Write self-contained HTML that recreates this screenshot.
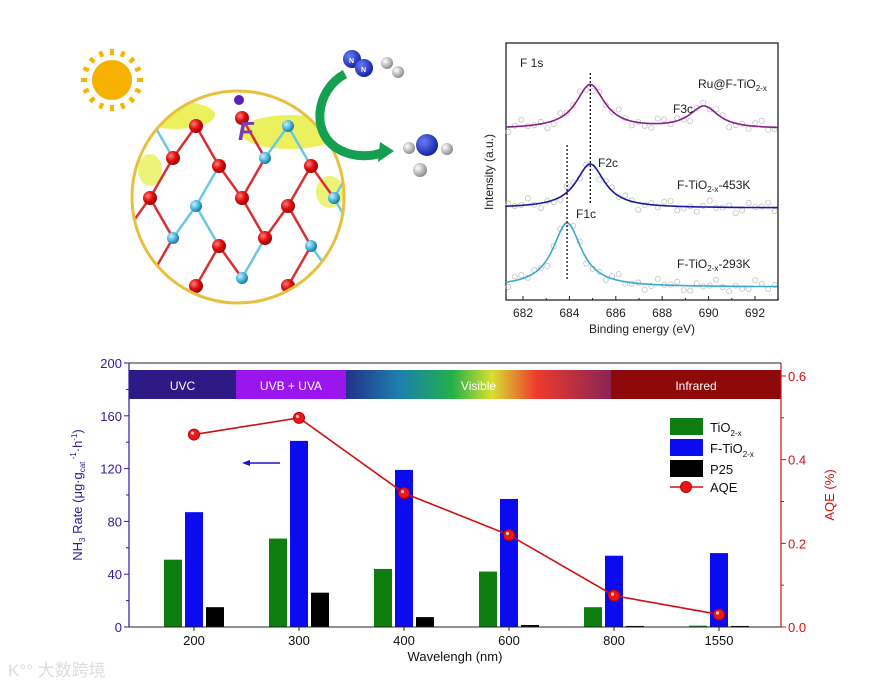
<!DOCTYPE html>
<html><head><meta charset="utf-8"><style>
html,body{margin:0;padding:0;background:#fff;}
body{width:880px;height:687px;position:relative;overflow:hidden;font-family:"Liberation Sans",sans-serif;}
svg{position:absolute;left:0;top:0;}
</style></head><body>
<svg id="s" width="880" height="687" viewBox="0 0 880 687" xmlns="http://www.w3.org/2000/svg">
<defs>
<linearGradient id="vis" x1="0" x2="1" y1="0" y2="0">
<stop offset="0" stop-color="#22318a"/><stop offset="0.2" stop-color="#1d7fae"/><stop offset="0.4" stop-color="#22b04a"/>
<stop offset="0.55" stop-color="#d8e030"/><stop offset="0.72" stop-color="#ee3a2c"/><stop offset="1" stop-color="#8b2454"/>
</linearGradient>
<radialGradient id="rb" cx="0.35" cy="0.35" r="0.7"><stop offset="0" stop-color="#ff8080"/><stop offset="0.5" stop-color="#e01010"/><stop offset="1" stop-color="#900"/></radialGradient>
<radialGradient id="cb" cx="0.35" cy="0.35" r="0.7"><stop offset="0" stop-color="#c8f0ff"/><stop offset="0.6" stop-color="#40b0d8"/><stop offset="1" stop-color="#1a6f90"/></radialGradient>
<radialGradient id="nb" cx="0.35" cy="0.35" r="0.7"><stop offset="0" stop-color="#6a7cff"/><stop offset="1" stop-color="#10209a"/></radialGradient>
<radialGradient id="hb" cx="0.35" cy="0.35" r="0.7"><stop offset="0" stop-color="#fff"/><stop offset="1" stop-color="#888"/></radialGradient>
<clipPath id="cc"><circle cx="238" cy="197" r="106"/></clipPath>
</defs>
<g id="illus"></g>
<g id="xps"></g>
<g id="bar"></g>
<text x="8" y="676" font-family="Liberation Sans, Noto Sans CJK SC, sans-serif" font-size="17" fill="#ddd">K°° 大数跨境</text>
</svg>
<script>
// ===== Bar chart data =====
const categories = ["200","300","400","600","800","1550"];
const tio2 = [51, 67, 44, 42, 15, 1];
const ftio2 = [87, 141, 119, 97, 54, 56];
const p25 = [15, 26, 7.5, 1.5, 0.8, 0.8];
const aqe = [0.46, 0.50, 0.32, 0.22, 0.075, 0.03];
const leftTicks = [0, 40, 80, 120, 160, 200];
const rightTicks = [0.0, 0.2, 0.4, 0.6];
// ===== XPS data =====
const xpsTicks = [682, 684, 686, 688, 690, 692];
const xpsRu = [[684.9, 44], [689.8, 22]];
const xps453 = [[684.9, 44]];
const xps293 = [[683.9, 64]];

const NS = "http://www.w3.org/2000/svg";
function mk(parent, tag, attrs, text){
  const e = document.createElementNS(NS, tag);
  for (const k in attrs) e.setAttribute(k, attrs[k]);
  if (text !== undefined) e.textContent = text;
  parent.appendChild(e); return e;
}
// ---------- bar chart ----------
const B = document.getElementById('bar');
const L = 129, R = 781, Y0 = 627, Ytop = 363;
const yL = v => Y0 - (v / 200) * (Y0 - Ytop);
const yR = v => Y0 - (v / 0.6) * (Y0 - 376);
const xC = i => 194 + i * 105;
const AX = "#2a1f9a", RD = "#d01010";
const bands = [[129,236,"#2e1a86","UVC"],[236,346,"#9b16ee","UVB + UVA"],[346,611,"url(#vis)","Visible"],[611,781,"#8e0a0a","Infrared"]];
bands.forEach(b=>{
  const r = mk(B,'rect',{x:b[0],y:370,width:b[1]-b[0],height:29,fill:b[2]});
  
  
  const t = mk(B,'text',{x:(b[0]+b[1])/2,y:390,'text-anchor':'middle','font-size':12,fill:'#fff'},b[3]);
  
  
});
const bw = 18;
categories.forEach((c,i)=>{
  [[tio2,'#0f7e10',-21,'tio2'],[ftio2,'#0b0bef',0,'f-tio2'],[p25,'#000',21,'p25']].forEach(s=>{
    const v = s[0][i], x = xC(i)+s[2]-bw/2;
    const r = mk(B,'rect',{x:x,y:yL(v),width:bw,height:Y0-yL(v),fill:s[1]});
    
    
  });
  const t = mk(B,'text',{x:xC(i),y:645,'text-anchor':'middle','font-size':13,fill:'#111'},c);
  
  
});
mk(B,'line',{x1:L,y1:Y0,x2:R,y2:Y0,stroke:'#222','stroke-width':1});
mk(B,'line',{x1:L,y1:Ytop,x2:L,y2:Y0,stroke:AX,'stroke-width':1.2});
mk(B,'line',{x1:R,y1:Ytop,x2:R,y2:Y0,stroke:RD,'stroke-width':1.2});
mk(B,'line',{x1:L,y1:Ytop,x2:R,y2:Ytop,stroke:'#222','stroke-width':1});
leftTicks.forEach((v,k)=>{
  mk(B,'line',{x1:L-5,y1:yL(v),x2:L,y2:yL(v),stroke:AX});
  if(k<leftTicks.length-1) mk(B,'line',{x1:L-3,y1:yL(v+20),x2:L,y2:yL(v+20),stroke:AX});
  const t = mk(B,'text',{x:L-7,y:yL(v)+5,'text-anchor':'end','font-size':13,fill:AX},String(v));
  
  
});
rightTicks.forEach((v,k)=>{
  mk(B,'line',{x1:R,y1:yR(v),x2:R+5,y2:yR(v),stroke:RD});
  if(k<rightTicks.length-1) mk(B,'line',{x1:R,y1:yR(v+0.1),x2:R+3,y2:yR(v+0.1),stroke:RD});
  const t = mk(B,'text',{x:R+7,y:yR(v)+5,'font-size':13,fill:RD},v.toFixed(1));
  
  
});
categories.forEach((c,i)=>{ mk(B,'line',{x1:xC(i),y1:Y0,x2:xC(i),y2:Y0+4,stroke:'#222'}); });
const pts = aqe.map((v,i)=>xC(i)+','+yR(v)).join(' ');
const pl = mk(B,'polyline',{points:pts,fill:'none',stroke:RD,'stroke-width':1.6});


aqe.forEach((v,i)=>{
  const p = mk(B,'circle',{cx:xC(i),cy:yR(v),r:5.5,fill:'#e81818',stroke:'#b00','stroke-width':1});
  
  
  mk(B,'circle',{cx:xC(i)-1.5,cy:yR(v)-1.5,r:1.6,fill:'#fbb'});
});
mk(B,'line',{x1:280,y1:463,x2:248,y2:463,stroke:'#1515d0','stroke-width':1.5});
mk(B,'polygon',{points:'242,463 250,460 250,466',fill:'#1515d0'});
const lg = mk(B,'g',{});


[['#0f7e10','TiO','2-x',427],['#0b0bef','F-TiO','2-x',448],['#000','P25','',469]].forEach(l=>{
  mk(lg,'rect',{x:670,y:l[3]-9,width:33,height:17,fill:l[0]});
  const t = mk(lg,'text',{x:710,y:l[3]+5,'font-size':13,fill:'#111'},l[1]);
  if(l[2]) mk(t,'tspan',{'font-size':8,dy:4},l[2]);
});
mk(lg,'line',{x1:670,y1:487,x2:703,y2:487,stroke:RD,'stroke-width':1.6});
mk(lg,'circle',{cx:686,cy:487,r:5.5,fill:'#e81818',stroke:'#b00'});
mk(lg,'text',{x:710,y:492,'font-size':13,fill:'#111'},'AQE');
const xt = mk(B,'text',{x:455,y:661,'text-anchor':'middle','font-size':13,fill:'#111'},'Wavelengh (nm)');


const yt = mk(B,'text',{transform:'translate(82,495) rotate(-90)','text-anchor':'middle','font-size':13,fill:AX},'NH');


mk(yt,'tspan',{'font-size':8,dy:3},'3');
mk(yt,'tspan',{dy:-3},' Rate (μg·g');
mk(yt,'tspan',{'font-size':8,dy:3},'cat');
mk(yt,'tspan',{'font-size':8,dy:-9},' -1');
mk(yt,'tspan',{dy:6},'·h');
mk(yt,'tspan',{'font-size':8,dy:-5},'-1');
mk(yt,'tspan',{dy:5},')');
const yt2 = mk(B,'text',{transform:'translate(834,495) rotate(-90)','text-anchor':'middle','font-size':13,fill:RD},'AQE (%)');



// ---------- XPS ----------
const X = document.getElementById('xps');
const xl=506,xr=778,xtop=43,xb=300;
const xE = e => 523 + (e-682)*23.2;
const emin = 682 - (523-xl)/23.2, emax = 682 + (xr-523)/23.2;
mk(X,'rect',{x:xl,y:xtop,width:xr-xl,height:xb-xtop,fill:'none',stroke:'#222','stroke-width':1.3});
xpsTicks.forEach(e=>{
  mk(X,'line',{x1:xE(e),y1:xb,x2:xE(e),y2:xb-4,stroke:'#222'});
  mk(X,'line',{x1:xE(e+1),y1:xb,x2:xE(e+1),y2:xb-2,stroke:'#222'});
  const t = mk(X,'text',{x:xE(e),y:317,'text-anchor':'middle','font-size':12,fill:'#222'},String(e));
  
  
});
const curve = (peaks, base, col, name) => {
  let d='';
  for(let e=emin;e<=emax;e+=0.05){
    let y=base; peaks.forEach(p=>{ y -= p[1]/(1+((e-p[0])/0.75)**2); });
    d += (d?'L':'M')+xE(e).toFixed(1)+','+y.toFixed(1);
  }
  for(let e=emin+0.1;e<emax;e+=0.28){
    let y=base; peaks.forEach(p=>{ y -= p[1]/(1+((e-p[0])/0.75)**2); });
    const n = Math.sin(e*7.3+base)*4 + Math.cos(e*3.1)*3;
    mk(X,'circle',{cx:xE(e),cy:y+n,r:2.6,fill:'none',stroke:'#bbb','stroke-width':0.7});
  }
  const p = mk(X,'path',{d:d,fill:'none',stroke:col,'stroke-width':1.6});
  
  
};
curve(xpsRu,129,'#8a1f8a','xps-ru-curve');
curve(xps453,208,'#1a1aa0','xps-453k-curve');
curve(xps293,287,'#3aa8d0','xps-293k-curve');
mk(X,'line',{x1:xE(684.9),y1:73,x2:xE(684.9),y2:203,stroke:'#111','stroke-dasharray':'2,2','stroke-width':1.3});
mk(X,'line',{x1:xE(683.9),y1:145,x2:xE(683.9),y2:280,stroke:'#111','stroke-dasharray':'2,2','stroke-width':1.3});
const lbl=(x,y,t,sub,rest,fs)=>{const e=mk(X,'text',{x:x,y:y,'font-size':fs||12,fill:'#222'},t); if(sub){mk(e,'tspan',{'font-size':8,dy:3},sub); mk(e,'tspan',{dy:-3},rest||'');}   return e;};
lbl(520,67,'F 1s');
lbl(698,88,'Ru@F-TiO','2-x','');
lbl(673,113,'F3c');
lbl(598,167,'F2c');
lbl(677,189,'F-TiO','2-x','-453K');
lbl(576,218,'F1c');
lbl(677,268,'F-TiO','2-x','-293K');
const it = mk(X,'text',{transform:'translate(493,172) rotate(-90)','text-anchor':'middle','font-size':12,fill:'#222'},'Intensity (a.u.)');


const bt = mk(X,'text',{x:642,y:333,'text-anchor':'middle','font-size':12,fill:'#222'},'Binding energy (eV)');



// ---------- illustration ----------
const I = document.getElementById('illus');
const sun = mk(I,'g',{});  
for(let k=0;k<16;k++){const a=k*Math.PI/8; mk(sun,'line',{x1:112+25*Math.cos(a),y1:80+25*Math.sin(a),x2:112+31*Math.cos(a),y2:80+31*Math.sin(a),stroke:'#f5b400','stroke-width':4});}
mk(sun,'circle',{cx:112,cy:80,r:20,fill:'#f6b100'});
const lat = mk(I,'g',{'clip-path':'url(#cc)'});


mk(lat,'rect',{x:130,y:90,width:220,height:220,fill:'#fff'});
mk(lat,'ellipse',{cx:175,cy:115,rx:40,ry:14,fill:'#e6ee40',opacity:0.85});
mk(lat,'ellipse',{cx:290,cy:132,rx:50,ry:17,fill:'#e6ee40',opacity:0.85});
mk(lat,'ellipse',{cx:150,cy:170,rx:12,ry:16,fill:'#e6ee40',opacity:0.7});
mk(lat,'ellipse',{cx:330,cy:192,rx:14,ry:16,fill:'#e6ee40',opacity:0.7});
const atoms=[];
for(let r=0;r<5;r++){for(let c=-1;c<6;c++){
  const x=150+c*46+(r%2)*23, y=118+r*40+(c%2)*8;
  atoms.push([x,y,(r+c)%3===0?'c':'r']);
}}
atoms.forEach(a=>{atoms.forEach(b=>{const d=Math.hypot(a[0]-b[0],a[1]-b[1]); if(d>0&&d<52&&a[0]<b[0]&&Math.abs(a[1]-b[1])>15) mk(lat,'line',{x1:a[0],y1:a[1],x2:b[0],y2:b[1],stroke:a[2]==='c'?'#6cc8e0':'#d83030','stroke-width':2.5});});});
atoms.forEach(a=>mk(lat,'circle',{cx:a[0],cy:a[1],r:a[2]==='c'?6:7,fill:a[2]==='c'?'url(#cb)':'url(#rb)'}));
mk(I,'circle',{cx:238,cy:197,r:106,fill:'none',stroke:'#e8c040','stroke-width':3});
mk(I,'circle',{cx:239,cy:100,r:5,fill:'#5a20b0'});
const ft = mk(I,'text',{x:238,y:140,'font-size':26,fill:'#7a3cb0','font-style':'italic','font-weight':'bold'},'F');
 
const n2 = mk(I,'g',{});  
mk(n2,'circle',{cx:352,cy:59,r:9,fill:'url(#nb)'}); mk(n2,'circle',{cx:364,cy:68,r:9,fill:'url(#nb)'});
mk(n2,'text',{x:349,y:63,'font-size':7,fill:'#fff','font-weight':'bold'},'N');
mk(n2,'text',{x:361,y:72,'font-size':7,fill:'#fff','font-weight':'bold'},'N');
const h2 = mk(I,'g',{});  
mk(h2,'circle',{cx:387,cy:63,r:6,fill:'url(#hb)'}); mk(h2,'circle',{cx:398,cy:72,r:6,fill:'url(#hb)'});
const nh3 = mk(I,'g',{});  
mk(nh3,'circle',{cx:409,cy:148,r:6,fill:'url(#hb)'}); mk(nh3,'circle',{cx:447,cy:149,r:6,fill:'url(#hb)'}); mk(nh3,'circle',{cx:420,cy:170,r:7,fill:'url(#hb)'});
mk(nh3,'circle',{cx:427,cy:145,r:11,fill:'url(#nb)'});
const ga = mk(I,'path',{d:'M345,74 C315,90 310,135 340,150 C355,158 375,157 385,151',fill:'none',stroke:'#14a050','stroke-width':9});
 
mk(I,'polygon',{points:'380,142 394,151 378,162',fill:'#14a050'});
</script>
</body></html>
